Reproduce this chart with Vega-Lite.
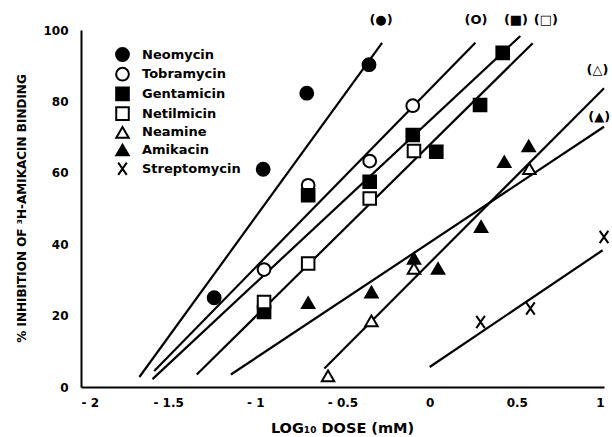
{
  "$schema": "https://vega.github.io/schema/vega-lite/v6.json",
  "width": 523,
  "height": 357,
  "autosize": "none",
  "padding": {"left": 81, "top": 30, "right": 8, "bottom": 50},
  "background": "white",
  "config": {
    "view": {"stroke": null},
    "axis": {
      "grid": false,
      "domainColor": "black",
      "domainWidth": 2,
      "ticks": false,
      "labelFont": "DejaVu Sans",
      "labelFontWeight": "bold",
      "labelFontSize": 12,
      "labelColor": "black",
      "labelOverlap": false,
      "titleFont": "DejaVu Sans",
      "titleFontWeight": "bold",
      "titleColor": "black"
    },
    "legend": {
      "labelFont": "DejaVu Sans",
      "labelFontWeight": "bold",
      "labelFontSize": 13,
      "labelColor": "black"
    }
  },
  "datasets": {
    "points": [
      {"drug": "Neomycin", "logdose": -1.236, "inhibition": 25.0},
      {"drug": "Neomycin", "logdose": -0.955, "inhibition": 61.0},
      {"drug": "Neomycin", "logdose": -0.705, "inhibition": 82.3},
      {"drug": "Neomycin", "logdose": -0.348, "inhibition": 90.3},
      {"drug": "Tobramycin", "logdose": -0.95, "inhibition": 32.9},
      {"drug": "Tobramycin", "logdose": -0.697, "inhibition": 56.5},
      {"drug": "Tobramycin", "logdose": -0.344, "inhibition": 63.3},
      {"drug": "Tobramycin", "logdose": -0.097, "inhibition": 78.8},
      {"drug": "Gentamicin", "logdose": -0.95, "inhibition": 21.0},
      {"drug": "Gentamicin", "logdose": -0.697, "inhibition": 53.7},
      {"drug": "Gentamicin", "logdose": -0.344, "inhibition": 57.5},
      {"drug": "Gentamicin", "logdose": -0.097, "inhibition": 70.6},
      {"drug": "Gentamicin", "logdose": 0.038, "inhibition": 65.9},
      {"drug": "Gentamicin", "logdose": 0.289, "inhibition": 79.0},
      {"drug": "Gentamicin", "logdose": 0.419, "inhibition": 93.6},
      {"drug": "Netilmicin", "logdose": -0.95, "inhibition": 23.8},
      {"drug": "Netilmicin", "logdose": -0.697, "inhibition": 34.6},
      {"drug": "Netilmicin", "logdose": -0.344, "inhibition": 52.8},
      {"drug": "Netilmicin", "logdose": -0.09, "inhibition": 66.1},
      {"drug": "Neamine", "logdose": -0.583, "inhibition": 3.1},
      {"drug": "Neamine", "logdose": -0.334, "inhibition": 18.5},
      {"drug": "Neamine", "logdose": -0.09, "inhibition": 33.2},
      {"drug": "Neamine", "logdose": 0.572, "inhibition": 61.2},
      {"drug": "Amikacin", "logdose": -0.697, "inhibition": 23.6},
      {"drug": "Amikacin", "logdose": -0.334, "inhibition": 26.6},
      {"drug": "Amikacin", "logdose": -0.09, "inhibition": 36.0},
      {"drug": "Amikacin", "logdose": 0.048, "inhibition": 33.2},
      {"drug": "Amikacin", "logdose": 0.295, "inhibition": 44.9},
      {"drug": "Amikacin", "logdose": 0.428, "inhibition": 63.1},
      {"drug": "Amikacin", "logdose": 0.568, "inhibition": 67.5},
      {"drug": "Streptomycin", "logdose": 0.292, "inhibition": 18.2},
      {"drug": "Streptomycin", "logdose": 0.578, "inhibition": 22.0},
      {"drug": "Streptomycin", "logdose": 1.0, "inhibition": 42.0}
    ],
    "lines": [
      {"drug": "Neomycin", "logdose": -1.665, "inhibition": 2.8},
      {"drug": "Neomycin", "logdose": -0.273, "inhibition": 96.4},
      {"drug": "Tobramycin", "logdose": -1.58, "inhibition": 4.5},
      {"drug": "Tobramycin", "logdose": 0.262, "inhibition": 96.4},
      {"drug": "Gentamicin", "logdose": -1.59, "inhibition": 2.2},
      {"drug": "Gentamicin", "logdose": 0.52, "inhibition": 98.3},
      {"drug": "Netilmicin", "logdose": -1.336, "inhibition": 3.5},
      {"drug": "Netilmicin", "logdose": 0.591, "inhibition": 96.3},
      {"drug": "Neamine", "logdose": -0.604, "inhibition": 5.2},
      {"drug": "Neamine", "logdose": 1.0, "inhibition": 83.7},
      {"drug": "Amikacin", "logdose": -1.14, "inhibition": 3.5},
      {"drug": "Amikacin", "logdose": 1.0, "inhibition": 72.9},
      {"drug": "Streptomycin", "logdose": 0.0, "inhibition": 5.6},
      {"drug": "Streptomycin", "logdose": 0.992, "inhibition": 38.3}
    ],
    "labels": [
      {"text": "(●)", "logdose": -0.279, "inhibition": 102.8},
      {"text": "(O)", "logdose": 0.266, "inhibition": 102.8},
      {"text": "(■)", "logdose": 0.495, "inhibition": 102.8},
      {"text": "(□)", "logdose": 0.667, "inhibition": 102.8},
      {"text": "(△)", "logdose": 0.963, "inhibition": 88.8},
      {"text": "(▲)", "logdose": 0.973, "inhibition": 75.7}
    ]
  },
  "layer": [
    {
      "data": {"name": "lines"},
      "mark": {"type": "line", "color": "black", "strokeWidth": 2.2},
      "encoding": {
        "x": {
          "field": "logdose", "type": "quantitative",
          "scale": {"domain": [-2, 1], "nice": false, "zero": false},
          "axis": {
            "values": [-2, -1.5, -1, -0.5, 0, 0.5, 1],
            "labelExpr": "datum.value < 0 ? '- ' + (-datum.value) : '' + datum.value",
            "labelPadding": 10,
            "title": "LOG₁₀ DOSE (mM)",
            "titleFontSize": 14.5,
            "titleX": 261,
            "titleY": 41,
            "titleBaseline": "middle"
          }
        },
        "y": {
          "field": "inhibition", "type": "quantitative",
          "scale": {"domain": [0, 100], "nice": false},
          "axis": {
            "values": [0, 10, 20, 30, 40, 50, 60, 70, 80, 90, 100],
            "labelPadding": 13,
            "title": "% INHIBITION OF ³H-AMIKACIN BINDING",
            "titleFontSize": 12,
            "titleX": -60,
            "titleY": 178,
            "titleBaseline": "middle",
            "titleAngle": -90
          }
        },
        "detail": {"field": "drug"}
      }
    },
    {
      "data": {"name": "labels"},
      "mark": {"type": "text", "font": "DejaVu Sans", "fontWeight": "bold", "fontSize": 13, "color": "black", "align": "center", "baseline": "middle"},
      "encoding": {
        "x": {"field": "logdose", "type": "quantitative"},
        "y": {"field": "inhibition", "type": "quantitative"},
        "text": {"field": "text"}
      }
    },
    {
      "data": {"name": "points"},
      "mark": {"type": "point", "filled": true, "stroke": "black", "strokeWidth": 2, "opacity": 1},
      "encoding": {
        "x": {"field": "logdose", "type": "quantitative"},
        "y": {"field": "inhibition", "type": "quantitative"},
        "shape": {
          "field": "drug", "type": "nominal",
          "scale": {
            "domain": ["Neomycin", "Tobramycin", "Gentamicin", "Netilmicin", "Neamine", "Amikacin", "Streptomycin"],
            "range": ["circle", "circle", "square", "square", "triangle-up", "triangle-up", "M-0.7,-1L0.7,1M-0.7,1L0.7,-1"]
          },
          "legend": {
            "orient": "none",
            "legendX": 34,
            "legendY": 17,
            "title": null,
            "padding": 0,
            "labelOffset": 12,
            "rowPadding": -1.3,
            "symbolStrokeWidth": 2,
            "symbolStrokeColor": "black"
          }
        },
        "fill": {
          "field": "drug", "type": "nominal",
          "scale": {
            "domain": ["Neomycin", "Tobramycin", "Gentamicin", "Netilmicin", "Neamine", "Amikacin", "Streptomycin"],
            "range": ["black", "white", "black", "white", "white", "black", "black"]
          }
        },
        "size": {
          "field": "drug", "type": "nominal",
          "scale": {
            "domain": ["Neomycin", "Tobramycin", "Gentamicin", "Netilmicin", "Neamine", "Amikacin", "Streptomycin"],
            "range": [165, 150, 130, 115, 150, 160, 140]
          }
        }
      }
    }
  ]
}
